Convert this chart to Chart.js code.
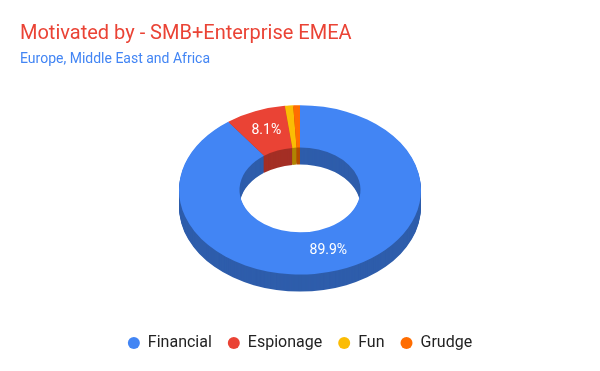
<!DOCTYPE html>
<html>
<head>
<meta charset="utf-8">
<script src="https://cdn.jsdelivr.net/npm/chart.js@4"></script>
<style>
  html, body { margin: 0; padding: 0; background: #fff; }
  #wrap { width: 600px; height: 371px; }
</style>
</head>
<body>
<div id="wrap"><canvas id="motiveChart" width="600" height="371"></canvas></div>
<script>
const categories = ['Financial', 'Espionage', 'Fun', 'Grudge'];
const shares = [89.9, 8.1, 1.1, 0.9];
const colors = ['#4285f4', '#ea4335', '#fbbc04', '#ff6d01'];
const sideColors = ['#2e5dab', '#a42f25', '#b08403', '#b34c01'];

const TILT = 0.7;   // vertical squash of the ring
const DEPTH = 17;   // thickness of the ring in px

// tilt the ring around its centre, lifted so the whole 3d shape stays centred
function squash(ctx, cx, cy, drop) {
  ctx.translate(0, drop - DEPTH / 2);
  ctx.translate(cx, cy);
  ctx.scale(1, TILT);
  ctx.translate(-cx, -cy);
}

const ring3d = {
  id: 'ring3d',
  beforeDatasetsDraw(chart) {
    const ctx = chart.ctx;
    const arcs = chart.getDatasetMeta(0).data;
    const cx = arcs[0].x, cy = arcs[0].y;
    // side walls: darker copies stacked downward
    for (let d = DEPTH; d >= 1; d--) {
      ctx.save();
      squash(ctx, cx, cy, d);
      arcs.forEach((arc, i) => {
        const p = arc.getProps(['startAngle', 'endAngle', 'innerRadius', 'outerRadius']);
        ctx.beginPath();
        ctx.arc(cx, cy, p.outerRadius, p.startAngle, p.endAngle);
        ctx.arc(cx, cy, p.innerRadius, p.endAngle, p.startAngle, true);
        ctx.closePath();
        ctx.fillStyle = sideColors[i];
        ctx.fill();
      });
      ctx.restore();
    }
    ctx.save();
    squash(ctx, cx, cy, 0);
  },
  afterDatasetsDraw(chart) {
    const ctx = chart.ctx;
    ctx.restore();
    const arcs = chart.getDatasetMeta(0).data;
    const total = shares.reduce((a, b) => a + b, 0);
    ctx.save();
    ctx.fillStyle = '#ffffff';
    ctx.font = '14px Roboto';
    ctx.textAlign = 'center';
    ctx.textBaseline = 'middle';
    arcs.forEach((arc, i) => {
      const pct = shares[i] / total * 100;
      if (pct < 5) return;
      const p = arc.getProps(['x', 'y', 'startAngle', 'endAngle', 'innerRadius', 'outerRadius']);
      const mid = (p.startAngle + p.endAngle) / 2;
      const r = (p.innerRadius + p.outerRadius) / 2;
      ctx.fillText(pct.toFixed(1) + '%', p.x + r * Math.cos(mid), p.y - DEPTH / 2 + r * TILT * Math.sin(mid));
    });
    ctx.restore();
  }
};

new Chart(document.getElementById('motiveChart'), {
  type: 'doughnut',
  data: {
    labels: categories,
    datasets: [{
      data: shares,
      backgroundColor: colors,
      borderWidth: 0,
      radius: 121,
      cutout: '50%',
      clip: false
    }]
  },
  plugins: [ring3d],
  options: {
    responsive: false,
    animation: false,
    events: [],
    layout: { padding: { left: 20, right: 20, top: 0, bottom: 10 } },
    plugins: {
      title: {
        display: true,
        text: 'Motivated by - SMB+Enterprise EMEA',
        align: 'start',
        color: '#ea4335',
        font: { family: 'Roboto', size: 20, weight: 'normal' },
        padding: { top: 22, bottom: 4 }
      },
      subtitle: {
        display: true,
        text: 'Europe, Middle East and Africa',
        align: 'start',
        color: '#4285f4',
        font: { family: 'Roboto', size: 14, weight: 'normal' },
        padding: { top: 1, bottom: 10 }
      },
      legend: {
        position: 'bottom',
        labels: {
          usePointStyle: true,
          pointStyle: 'circle',
          boxWidth: 12,
          boxHeight: 8.5,
          padding: 16,
          color: '#222222',
          font: { family: 'Roboto', size: 16 }
        }
      },
      tooltip: { enabled: false }
    }
  }
});
</script>
</body>
</html>
